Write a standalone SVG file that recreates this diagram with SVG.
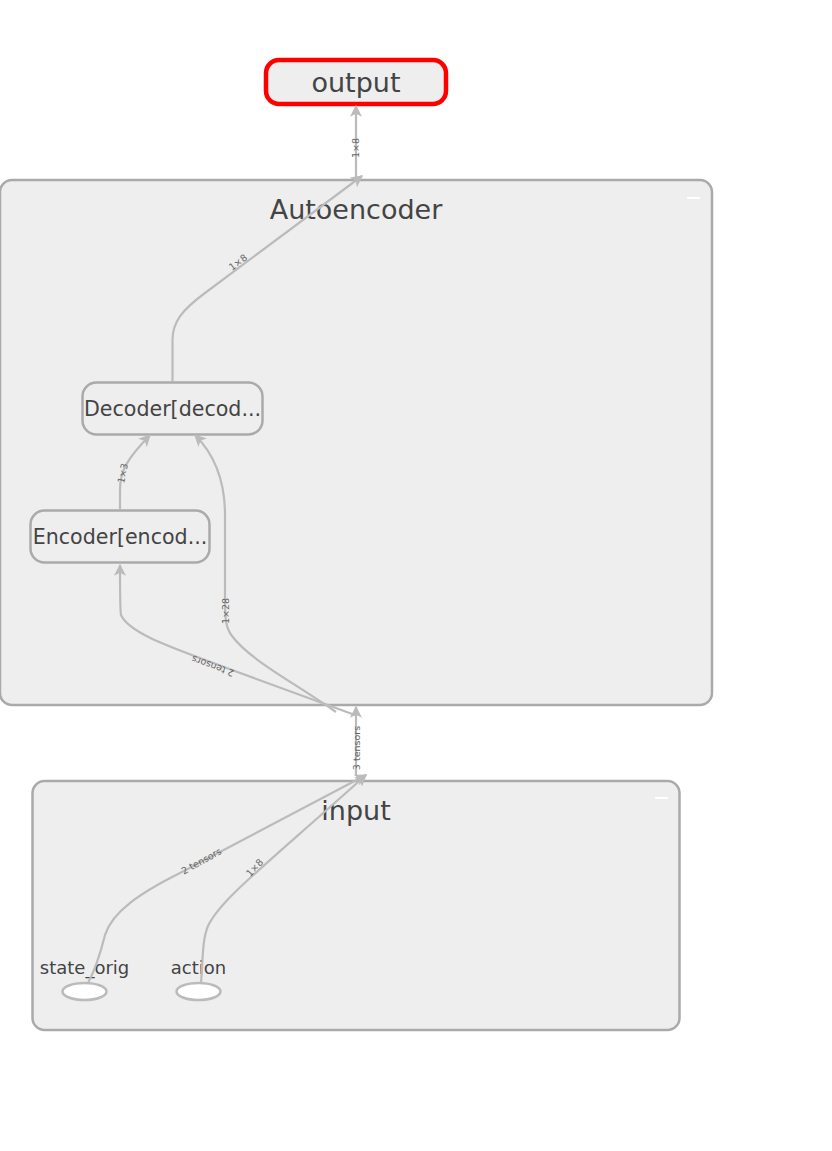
<svg xmlns="http://www.w3.org/2000/svg" width="832" height="1151" viewBox="0 0 832 1151">
<defs>
<marker id="arr" viewBox="0 0 10 10" refX="9" refY="5" markerWidth="12" markerHeight="12" markerUnits="userSpaceOnUse" orient="auto">
<path d="M0,0 L10,5 L0,10 L2.5,5 Z" fill="#bbb"/>
</marker>
</defs>
<style>
.grp{fill:#eee;stroke:#aaa;stroke-width:2.5}
.op{fill:#eee;stroke:#aaa;stroke-width:2.5}
.edge{fill:none;stroke:#bbb;stroke-width:2.2;marker-end:url(#arr)}
.t{font-family:"DejaVu Sans","Liberation Sans",sans-serif;fill:#444;text-anchor:middle}
.big{font-size:27px}
.mid{font-size:20.6px}
.sm{font-size:18px}
.lbl{font-family:"DejaVu Sans","Liberation Sans",sans-serif;font-size:9.5px;fill:#666;text-anchor:middle}
.col{stroke:#fff;stroke-width:2}
</style>
<rect width="832" height="1151" fill="#fff"/>
<g id="Autoencoder">
<rect class="grp" x="0" y="180" width="712" height="525" rx="12"/>
<text class="t big" x="356" y="219">Autoencoder</text>
<line class="col" x1="687" y1="198" x2="700" y2="198"/>
</g>
<g id="input">
<rect class="grp" x="32.5" y="781" width="647" height="249" rx="12"/>
<text class="t big" x="356" y="820">input</text>
<line class="col" x1="655" y1="798" x2="668" y2="798"/>
</g>
<g id="output">
<rect x="266" y="60" width="180" height="44" rx="13" fill="#eee" stroke="#f00" stroke-width="4.5"/>
<text class="t big" x="356" y="92">output</text>
</g>
<g id="Decoder">
<rect class="op" x="82.5" y="382.5" width="180" height="52" rx="14"/>
<text class="t mid" x="172.5" y="416">Decoder[decod...</text>
</g>
<g id="Encoder">
<rect class="op" x="30.5" y="510.5" width="179" height="52" rx="14"/>
<text class="t mid" x="120" y="544">Encoder[encod...</text>
</g>
<g id="state_orig">
<ellipse cx="84.5" cy="991.5" rx="22" ry="8.5" fill="#fff" stroke="#bbb" stroke-width="2.5"/>
<text class="t sm" x="84.5" y="974">state_orig</text>
</g>
<g id="action">
<ellipse cx="198.5" cy="991.5" rx="22" ry="8.5" fill="#fff" stroke="#bbb" stroke-width="2.5"/>
<text class="t sm" x="198.5" y="974">action</text>
</g>
<g id="connectors">
<path class="edge" d="M356,178 L356,106"/>
<text class="lbl" transform="translate(359,148) rotate(-90)">1×8</text>
<path class="edge" d="M172.5,382 L172.5,340 C172.5,322 182,310 205,293 L362,176"/>
<text class="lbl" transform="translate(240,265) rotate(-37)">1×8</text>
<path class="edge" d="M120,510 L120,490 C120,470 128,458 150,435"/>
<text class="lbl" transform="translate(126,474) rotate(-78)">1×3</text>
<path class="edge" d="M355,715 L232,670 C180,650 130,635 121,615 C120,610 120,600 120,565"/>
<text class="lbl" transform="translate(214,663) rotate(200)">2 tensors</text>
<path class="edge" d="M336,712 C290,680 250,660 232,636 C226,628 225,620 225,600 L225,515 C225,480 215,455 195,435"/>
<text class="lbl" transform="translate(229,611) rotate(-90)">1×28</text>
<path class="edge" d="M356,776 L356,707"/>
<text class="lbl" transform="translate(360,748) rotate(-90)">3 tensors</text>
<path class="edge" d="M88,983 C95,970 100,955 105,935 C112,912 140,893 180,873 L366,775"/>
<text class="lbl" transform="translate(203,864) rotate(-29)">2 tensors</text>
<path class="edge" d="M201,983 C203,960 202,940 208,926 C220,900 260,870 366,775"/>
<text class="lbl" transform="translate(257,870) rotate(-47)">1×8</text>
</g>
</svg>
